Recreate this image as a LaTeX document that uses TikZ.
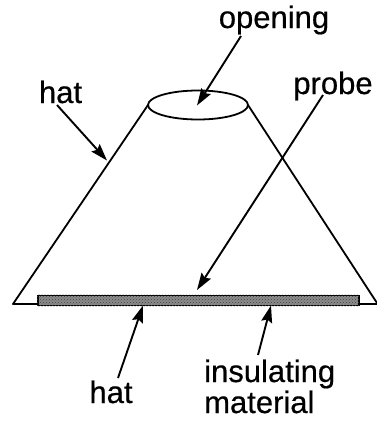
\documentclass[tikz,border=0pt]{standalone}
\usepackage{fontspec}
\setmainfont[BoldFont={Liberation Sans},BoldFeatures={FakeBold=0.5}]{Liberation Sans}
\usetikzlibrary{arrows.meta,patterns}
\tikzset{
  lbl/.style={inner sep=0pt,font=\fontsize{31}{33}\selectfont\bfseries,text=black},
  ptr/.style={line width=1.9pt,-{Stealth[length=17pt,width=11pt,inset=2.5pt]}},
  hatline/.style={line width=1.8pt,line join=round}
}
\begin{document}
\begin{tikzpicture}[x=1pt,y=-1pt]
\useasboundingbox (0,0) rectangle (377,421);
\node[lbl,anchor=base] (opening) at (274,28) {opening};
\node[lbl,anchor=base] (hat1) at (60.5,103) {hat};
\node[lbl,anchor=base] (probe) at (333,94) {probe};
\node[lbl,anchor=base] (hat2) at (111,403) {hat};
\node[lbl,anchor=base west] (ins) at (204,382) {insulating};
\node[lbl,anchor=base west] (mat) at (204,413) {material};
\coordinate (elL) at (148,105);
\coordinate (elR) at (248,105);
\coordinate (blL) at (13,304);
\coordinate (blR) at (377,304);
\draw[hatline,fill=white] (198,105) ellipse [x radius=50, y radius=14.5];
\draw[hatline] (elL) -- (blL) -- (blR);
\draw[hatline] (elR) -- (377,303);
\node[draw=black,line width=1.6pt,fill=black!45,minimum width=321pt,minimum height=10pt,inner sep=0pt,anchor=north west] (strip) at (37,294.5) {};
\fill[pattern=crosshatch dots,pattern color=black!75] (strip.south west) rectangle (strip.north east);
\coordinate (tOpen) at (197,105.5);
\coordinate (tHat1) at (107,160.5);
\coordinate (tProbe) at (197,290);
\coordinate (tHat2) at (143,305.5);
\coordinate (tIns) at (271,305.5);
\coordinate (sOpen) at (241,36);
\coordinate (sHat1) at (57,105);
\coordinate (sProbe) at (323,95);
\coordinate (sHat2) at (118,378);
\coordinate (sIns) at (258,355);
\draw[ptr] (sOpen) -- (tOpen);
\draw[ptr] (sHat1) -- (tHat1);
\draw[ptr] (sProbe) -- (tProbe);
\draw[ptr] (sHat2) -- (tHat2);
\draw[ptr] (sIns) -- (tIns);
\end{tikzpicture}
\end{document}
